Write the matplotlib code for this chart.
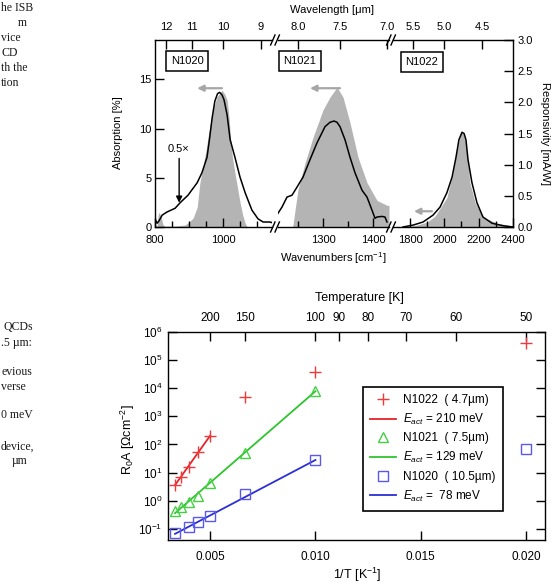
import numpy as np
import matplotlib
matplotlib.use("Agg")
import matplotlib.pyplot as plt
from matplotlib.lines import Line2D
from matplotlib.ticker import NullLocator

plt.rcParams['font.family'] = ['Liberation Sans', 'DejaVu Sans']
plt.rcParams['mathtext.fontset'] = 'custom'
plt.rcParams['mathtext.rm'] = 'Liberation Sans'
plt.rcParams['mathtext.it'] = 'Liberation Sans:italic'
plt.rcParams['mathtext.bf'] = 'Liberation Sans:bold'
plt.rcParams['axes.linewidth'] = 1.0

W, H = 552, 584

# ---------------- top panel: absorption (grey, %) and responsivity (black, mA/W)
abs_n1020_wn = [800, 806, 809, 812, 818, 824, 829, 860, 888, 900, 912, 924, 932, 941, 950,
                960, 971, 982, 997, 1005, 1012, 1018, 1023, 1028, 1035, 1041, 1050, 1058, 1065, 1071]
abs_n1020 = [0, 0, 1.2, 1.5, 1.0, 0.2, 0.1, 0.1, 0.2, 0.5, 0.9, 2.0, 4.5, 6.1, 7.8,
             10.0, 11.9, 13.2, 13.9, 13.5, 12.9, 11.0, 8.5, 7.0, 5.5, 4.3, 2.5, 1.2, 0.4, 0]
resp_n1020_wn = [800, 806, 812, 821, 835, 859, 874, 897, 924, 938, 953, 960, 968, 976, 984,
                 990, 997, 1003, 1012, 1021, 1035, 1050, 1065, 1085, 1103, 1118, 1138, 1144]
resp_n1020 = [0.13, 0.06, 0.10, 0.19, 0.24, 0.30, 0.39, 0.51, 0.71, 0.87, 1.12, 1.40, 1.75, 2.02, 2.14,
              2.16, 2.12, 2.04, 1.80, 1.40, 1.12, 0.80, 0.55, 0.27, 0.13, 0.08, 0.08, 0.07]

abs_n1021_wn = [1238, 1240, 1244, 1250, 1264, 1280, 1300, 1314, 1328, 1340, 1354, 1370, 1388, 1408, 1428, 1432]
abs_n1021 = [0, 0.2, 1.7, 3.8, 6.5, 9.1, 11.9, 13.2, 14.2, 13.2, 10.6, 7.1, 4.5, 2.7, 2.2, 2.2]
resp_n1021_wn = [1210, 1218, 1228, 1238, 1248, 1260, 1274, 1288, 1304, 1314, 1322, 1328,
                 1334, 1344, 1354, 1364, 1378, 1388, 1398, 1404, 1408, 1418, 1424, 1428]
resp_n1021 = [0.22, 0.32, 0.48, 0.51, 0.64, 0.80, 1.08, 1.35, 1.61, 1.68, 1.70, 1.68,
              1.61, 1.40, 1.12, 0.87, 0.59, 0.48, 0.27, 0.14, 0.16, 0.17, 0.16, 0.08]

abs_n1022_wn = [1771, 1841, 1899, 1946, 1975, 2015, 2050, 2075, 2095, 2103, 2112, 2126, 2149, 2179, 2225, 2307, 2400]
abs_n1022 = [0, 0.2, 0.5, 1.1, 1.9, 3.0, 5.5, 8.0, 9.4, 9.6, 9.4, 8.5, 4.5, 2.5, 1.0, 0.4, 0.1]
resp_n1022_wn = [1759, 1817, 1876, 1934, 1975, 2015, 2045, 2068, 2085, 2103, 2115,
                 2126, 2138, 2161, 2190, 2225, 2278, 2342, 2400]
resp_n1022 = [0.0, 0.03, 0.08, 0.19, 0.32, 0.55, 0.80, 1.12, 1.40, 1.52, 1.50,
              1.40, 1.08, 0.71, 0.39, 0.16, 0.06, 0.02, 0.0]

seg_names = ['N1020', 'N1021', 'N1022']
seg_abs = [(abs_n1020_wn, abs_n1020), (abs_n1021_wn, abs_n1021), (abs_n1022_wn, abs_n1022)]
seg_resp = [(resp_n1020_wn, resp_n1020), (resp_n1021_wn, resp_n1021), (resp_n1022_wn, resp_n1022)]
seg_lim = [(800, 1144), (1210, 1432), (1701, 2400)]
wn_major = [[800, 1000], [1300, 1400], [1800, 2000, 2200, 2400]]
wn_minor = [[850, 900, 950, 1050, 1100], [1250, 1350], [1900, 2100, 2300]]
wl_ticks = [[12, 11, 10, 9], [8.0, 7.5, 7.0], [5.5, 5.0, 4.5]]
wl_labels = [['12', '11', '10', '9'], ['8.0', '7.5', '7.0'], ['5.5', '5.0', '4.5']]

# ---------------- bottom panel: R0A vs 1/T
temp_n1022 = [300, 275, 250, 225, 200, 150, 100, 50]
r0a_n1022 = [3.7, 7.1, 16, 55, 205, 5000, 39000, 420000]
temp_n1021 = [300, 275, 250, 225, 200, 150, 100]
r0a_n1021 = [0.44, 0.61, 0.92, 1.5, 4.4, 51, 8200]
temp_n1020 = [300, 250, 225, 200, 150, 100, 50]
r0a_n1020 = [0.072, 0.118, 0.18, 0.29, 1.8, 27, 71]

fit_temp_n1022 = [300, 200]
fit_r0a_n1022 = [3.6, 205]
fit_temp_n1021 = [300, 100]
fit_r0a_n1021 = [0.36, 7800]
fit_temp_n1020 = [300, 100]
fit_r0a_n1020 = [0.066, 28]

temp_ticks = [200, 150, 100, 90, 80, 70, 60, 50]


def box(x0, y0, x1, y1):
    """pixel box (top-left origin) -> figure fraction rect"""
    return [x0 / W, 1 - y1 / H, (x1 - x0) / W, (y1 - y0) / H]


def fx(x):
    return x / W


def fy(y):
    return 1 - y / H


def wavelength(x):
    x = np.asarray(x, dtype=float)
    with np.errstate(divide='ignore'):
        return 1e4 / x


def inverse(x):
    x = np.asarray(x, dtype=float)
    with np.errstate(divide='ignore'):
        return 1.0 / x


fig = plt.figure(figsize=(W / 100, H / 100), dpi=100)

# ---------------- top panel
seg_px = [(155, 272), (278, 389), (393, 513)]
label_pos = [(0.274, 0.888), (0.198, 0.888), (0.242, 0.882)]
grey = '#b4b4b4'

axes_top = []
for i in range(3):
    ax = fig.add_axes(box(seg_px[i][0], 40, seg_px[i][1], 227))
    ax.set_xlim(seg_lim[i])
    ax.set_ylim(0, 19)
    ax.fill_between(seg_abs[i][0], seg_abs[i][1], color=grey, lw=0)

    tw = ax.twinx()
    tw.set_ylim(0, 3)
    tw.plot(seg_resp[i][0], seg_resp[i][1], color='k', lw=1.1)
    for s in tw.spines.values():
        s.set_visible(False)

    ax.set_xticks(wn_major[i])
    ax.set_xticklabels([str(v) for v in wn_major[i]])
    ax.set_xticks(wn_minor[i], minor=True)
    ax.tick_params(axis='x', which='major', direction='in', length=6.5, width=1, labelsize=8, pad=5.5)
    ax.tick_params(axis='x', which='minor', direction='in', length=4, width=1)
    ax.tick_params(axis='x', which='both', top=False)

    if i == 0:
        ax.set_yticks([0, 5, 10, 15])
        ax.tick_params(axis='y', direction='in', length=6.5, width=1, labelsize=8, pad=2.5)
    else:
        ax.set_yticks([])
        ax.spines['left'].set_visible(False)
    if i == 2:
        tw.set_yticks(np.arange(0, 3.01, 0.5))
        tw.set_yticklabels(['%.1f' % v for v in np.arange(0, 3.01, 0.5)])
        tw.tick_params(axis='y', direction='in', length=6.5, width=1, labelsize=8, pad=3)
    else:
        tw.set_yticks([])
        ax.spines['right'].set_visible(False)

    sec = ax.secondary_xaxis('top', functions=(wavelength, wavelength))
    sec.set_xticks(wl_ticks[i], labels=wl_labels[i])
    sec.tick_params(axis='x', direction='in', length=6.5, width=1, labelsize=8, pad=5.5)
    sec.spines['top'].set_visible(False)

    tw.text(label_pos[i][0], label_pos[i][1], seg_names[i], transform=ax.transAxes,
            ha='center', va='center', fontsize=8, zorder=10,
            bbox=dict(boxstyle='square,pad=0.45', fc='white', ec='k', lw=1.1))
    axes_top.append((ax, tw))

# grey arrows (absorption -> left axis) and 0.5x marker
arrow_grey = dict(arrowstyle='-|>', color='#a6a6a6', lw=1.6, mutation_scale=9, shrinkA=0, shrinkB=0)
axes_top[0][0].annotate('', xy=(924, 14.1), xytext=(997, 14.1), arrowprops=arrow_grey)
axes_top[1][0].annotate('', xy=(1274, 14.1), xytext=(1334, 14.1), arrowprops=arrow_grey)
axes_top[2][0].annotate('', xy=(1823, 1.6), xytext=(1928, 1.6), arrowprops=arrow_grey)
axes_top[0][1].annotate('', xy=(871, 0.39), xytext=(871, 1.10),
                        arrowprops=dict(arrowstyle='-|>', color='k', lw=1, mutation_scale=9,
                                        shrinkA=0, shrinkB=0))
axes_top[0][1].text(869, 1.25, '0.5\u00d7', ha='center', va='center', fontsize=8)

# axis-break slashes
for cx in (275, 391):
    for yb in (40, 227):
        for off in (-2.2, 2.2):
            fig.add_artist(Line2D([fx(cx + off - 2.2), fx(cx + off + 2.2)],
                                  [fy(yb + 5), fy(yb - 5)], color='k', lw=1))

fig.text(fx(332), fy(10), 'Wavelength [\u03bcm]', ha='center', va='center', fontsize=8)
fig.text(fx(333), fy(258), 'Wavenumbers [cm$^{-1}$]', ha='center', va='center', fontsize=8)
fig.text(fx(118), fy(133), 'Absorption [%]', ha='center', va='center', fontsize=8, rotation=90)
fig.text(fx(545.5), fy(133), 'Responsivity [mA/W]', ha='center', va='center', fontsize=8, rotation=270)

# ---------------- bottom panel
red, green, blue = '#e8222a', '#2fc42f', '#2b2fd6'
red_m, green_m, blue_m = '#ee3a3a', '#44d044', '#5a5ae6'

axb = fig.add_axes(box(168, 332, 545, 540))
axb.set_yscale('log')
axb.set_xlim(0.003, 0.0209)
axb.set_ylim(0.04, 1e6)

axb.plot(inverse(fit_temp_n1022), fit_r0a_n1022, color=red, lw=1.3)
axb.plot(inverse(fit_temp_n1021), fit_r0a_n1021, color=green, lw=1.3)
axb.plot(inverse(fit_temp_n1020), fit_r0a_n1020, color=blue, lw=1.3)
axb.plot(inverse(temp_n1022), r0a_n1022, ls='none', marker='+', ms=9, mew=1, color=red_m)
axb.plot(inverse(temp_n1021), r0a_n1021, ls='none', marker='^', ms=7, mew=1, mfc='none', color=green_m)
axb.plot(inverse(temp_n1020), r0a_n1020, ls='none', marker='s', ms=6.5, mew=1, mfc='none', color=blue_m)

axb.set_xticks([0.005, 0.010, 0.015, 0.020])
axb.set_xticklabels(['0.005', '0.010', '0.015', '0.020'])
axb.set_yticks([10.0 ** k for k in range(-1, 7)])
axb.yaxis.set_minor_locator(NullLocator())
axb.tick_params(axis='x', direction='in', length=6.5, width=1, labelsize=8.5, pad=8, top=False)
axb.tick_params(axis='y', direction='in', length=6.5, width=1, labelsize=8.5, pad=4, right=True)

secb = axb.secondary_xaxis('top', functions=(inverse, inverse))
secb.set_xticks(temp_ticks, labels=[str(t) for t in temp_ticks])
secb.tick_params(axis='x', direction='in', length=6.5, width=1, labelsize=8.5, pad=6)
secb.spines['top'].set_visible(False)

handles = [
    Line2D([], [], ls='none', marker='+', ms=9, mew=1, color=red_m),
    Line2D([], [], color=red, lw=1.3),
    Line2D([], [], ls='none', marker='^', ms=7, mew=1, mfc='none', color=green_m),
    Line2D([], [], color=green, lw=1.3),
    Line2D([], [], ls='none', marker='s', ms=6.5, mew=1, mfc='none', color=blue_m),
    Line2D([], [], color=blue, lw=1.3),
]
labels = [
    'N1022  ( 4.7\u00b5m)',
    '$E_{act}$ = 210 meV',
    'N1021  ( 7.5\u00b5m)',
    '$E_{act}$ = 129 meV',
    'N1020  ( 10.5\u00b5m)',
    '$E_{act}$ =  78 meV',
]
leg = axb.legend(handles, labels, loc='upper left', bbox_to_anchor=(0.517, 0.736),
                 borderaxespad=0, frameon=True, fancybox=False, edgecolor='k',
                 fontsize=8.5, handlelength=2.2, labelspacing=0.48, borderpad=0.6,
                 handletextpad=0.6)
leg.get_frame().set_linewidth(1.2)
leg.get_frame().set_alpha(1)

fig.text(fx(359), fy(298), 'Temperature [K]', ha='center', va='center', fontsize=9)
fig.text(fx(357), fy(575), '1/T [K$^{-1}$]', ha='center', va='center', fontsize=9)
fig.text(fx(128), fy(440), 'R$_0$A [\u03a9cm$^{-2}$]', ha='center', va='center', fontsize=9, rotation=90)

# ---------------- cropped body text at the left edge
serif = dict(family=['Liberation Serif', 'DejaVu Serif'], fontsize=8.5, color='#1a1a1a', va='center')
# (text, x in px, y in px, anchor)
body_lines = [
    ('he ISB', 1, 8, 'left'), ('m', 27, 23, 'right'), ('vice', 1, 38, 'left'), ('CD', 1, 53, 'left'),
    ('th the', 1, 68, 'left'), ('tion', 1, 83, 'left'),
    ('QCDs', 33, 327, 'right'), ('.5 \u00b5m:', 1, 343, 'left'), ('evious', 1, 372, 'left'),
    ('verse', 1, 387, 'left'), ('0 meV', 1, 415, 'left'), ('device,', 1, 447, 'left'),
    ('\u00b5m', 27, 461, 'right'),
]
for s, x, yc, anchor in body_lines:
    fig.text(fx(x), fy(yc), s, ha=anchor, **serif)

fig.savefig('out.png', dpi=100)
